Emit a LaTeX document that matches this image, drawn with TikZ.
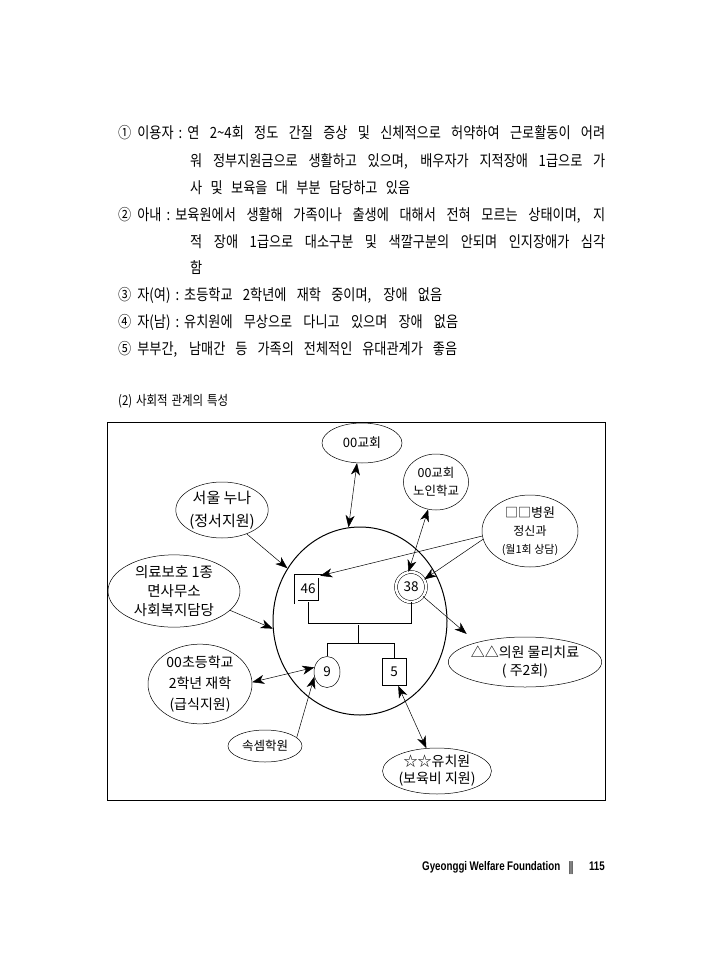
\documentclass[tikz,border=0pt]{standalone}
\usepackage{fontspec}
\usepackage{graphicx}
\setmainfont{Noto Sans CJK KR}
\newfontfamily\bodyfont[FakeStretch=0.85]{Noto Sans CJK KR}
\newfontfamily\footfont[FakeStretch=0.78]{Liberation Sans}
\newfontfamily\symf{DejaVu Sans}
\newcommand{\colsep}{\hspace{5pt}:\hspace{5pt}}
\newcommand{\numsep}{\hspace{6pt}}
\usetikzlibrary{shapes.geometric,arrows.meta}
\tikzset{
  body/.style={anchor=base west, inner sep=0pt, font=\bodyfont\fontsize{15.5}{17}\selectfont},
  oval/.style={ellipse, draw, line width=0.5pt, inner sep=0pt, align=center},
  tip/.tip={Stealth[length=12pt,width=9pt,inset=3.5pt]},
  arr/.style={-tip, line width=0.5pt},
  darr/.style={tip-tip, line width=0.5pt},
  fam/.style={line width=0.6pt}
}
\begin{document}
\begin{tikzpicture}[x=1pt,y=-1pt]
\useasboundingbox (0,0) rectangle (710,971);
% body text
\node[body] (l1) at (118,139) {\makebox[487pt][s]{①\numsep 이용자\colsep 연 2\textasciitilde4회 정도 간질 증상 및 신체적으로 허약하여 근로활동이 어려}};
\node[body] (l2) at (190,166) {\makebox[415pt][s]{워 정부지원금으로 생활하고 있으며, 배우자가 지적장애 1급으로 가}};
\node[body] (l3) at (190,193) {\makebox[220pt][s]{사 및 보육을 대 부분 담당하고 있음}};
\node[body] (l4) at (118,220) {\makebox[487pt][s]{②\numsep 아내\colsep 보육원에서 생활해 가족이나 출생에 대해서 전혀 모르는 상태이며, 지}};
\node[body] (l5) at (190,247) {\makebox[415pt][s]{적 장애 1급으로 대소구분 및 색깔구분의 안되며 인지장애가 심각}};
\node[body] (l6) at (190,273) {함};
\node[body] (l7) at (118,300) {\makebox[324pt][s]{③\numsep 자(여)\colsep 초등학교 2학년에 재학 중이며, 장애 없음}};
\node[body] (l8) at (118,327) {\makebox[340pt][s]{④\numsep 자(남)\colsep 유치원에 무상으로 다니고 있으며 장애 없음}};
\node[body] (l9) at (118,354) {\makebox[339pt][s]{⑤\numsep 부부간, 남매간 등 가족의 전체적인 유대관계가 좋음}};
\node[body, font=\bodyfont\fontsize{13.5}{15}\selectfont] (sec) at (118,405) {\makebox[110pt][s]{(2) 사회적 관계의 특성}};
% frame
\draw[line width=0.7pt] (107,422) rectangle (605,800);
% family circle
\node[ellipse, draw, line width=1pt, minimum width=174pt, minimum height=188pt, inner sep=0pt] (fam) at (360,621) {};
\node[rectangle, draw, double, line width=0.5pt, double distance=3pt, minimum width=24pt, minimum height=26pt, inner sep=0pt, font=\fontsize{13.5}{15}\selectfont] (n46) at (308,589) {46};
\node[circle, draw, double, line width=0.5pt, double distance=2.5pt, minimum size=30pt, inner sep=0pt, font=\fontsize{13.5}{15}\selectfont] (n38) at (411,587) {38};
\node[ellipse, draw, line width=0.5pt, minimum width=26pt, minimum height=31pt, inner sep=0pt, font=\fontsize{13.5}{15}\selectfont] (n9) at (327,672) {9};
\node[rectangle, draw, line width=0.5pt, minimum width=24pt, minimum height=27pt, inner sep=0pt, font=\fontsize{13.5}{15}\selectfont] (n5) at (394,672) {5};
\coordinate (cm) at (358,625);
\coordinate (ck) at (358,643);
\draw[fam] (n46.south) -- ++(0,21) -| (n38.south);
\draw[fam] (cm) -- (ck);
\draw[fam] (n9.north) -- ++(0,-13) -| (n5.north);
% outer systems
\node[oval, minimum width=80pt, minimum height=40pt, font=\fontsize{13}{15}\selectfont] (church) at (362,443) {00교회};
\node[oval, minimum width=64pt, minimum height=56pt, font=\fontsize{12.5}{18}\selectfont] (nursing) at (436,482) {00교회\\노인학교};
\node[oval, minimum width=96pt, minimum height=72pt, font=\fontsize{13}{18}\selectfont] (hosp) at (530,531) {□□병원\\{\fontsize{12}{14}\selectfont 정신과}\\{\fontsize{11}{13}\selectfont (월1회 상담)}};
\node[oval, minimum width=92pt, minimum height=56pt, font=\fontsize{15}{23}\selectfont] (sister) at (222,510) {서울 누나\\(정서지원)};
\node[oval, minimum width=132pt, minimum height=64pt, font=\fontsize{14.5}{19}\selectfont] (med) at (174,591) {의료보호 1종\\면사무소\\사회복지담당};
\node[oval, minimum width=144pt, minimum height=50pt, font=\fontsize{14}{18}\selectfont] (clinic) at (525,662) {△△의원 물리치료\\( 주2회)};
\node[oval, minimum width=104pt, minimum height=72pt, font=\fontsize{14}{21}\selectfont] (school) at (200,684) {00초등학교\\2학년 재학\\(급식지원)};
\node[oval, minimum width=74pt, minimum height=32pt, font=\fontsize{12.5}{15}\selectfont] (abacus) at (265,746) {속셈학원};
\node[oval, minimum width=92pt, minimum height=46pt, font=\fontsize{14}{17}\selectfont] (kinder) at (437,771) {☆☆유치원\\(보육비 지원)};
% connectors
\draw[darr] (church.256) -- (fam.97);
\draw[darr] (nursing.254) -- (n38.100);
\draw[arr] (hosp.186) -- (n46.north east);
\draw[arr] (hosp.190) -- (n38.30);
\draw[arr] (sister.316) -- (fam.144);
\draw[arr] (med.341) -- (fam.185);
\draw[arr, shorten >=13pt] (n38.322) -- (clinic.158);
\draw[darr] (school.2) -- (n9.160);
\draw[arr] (abacus.15) -- (n9.200);
\draw[darr] (n5.-73) -- (kinder.115);
% footer
\node[anchor=base west, inner sep=0pt, font=\footfont\bfseries\fontsize{12.5}{14}\selectfont] (ft) at (422,870) {\makebox[138pt][s]{Gyeonggi Welfare Foundation}};
\node[anchor=base, inner sep=0pt, font=\symf\fontsize{13}{15}\selectfont] (bar) at (571,871) {‖};
\node[anchor=base east, inner sep=0pt, font=\footfont\bfseries\fontsize{12.5}{14}\selectfont] (pg) at (605,870) {115};
\end{tikzpicture}
\end{document}
